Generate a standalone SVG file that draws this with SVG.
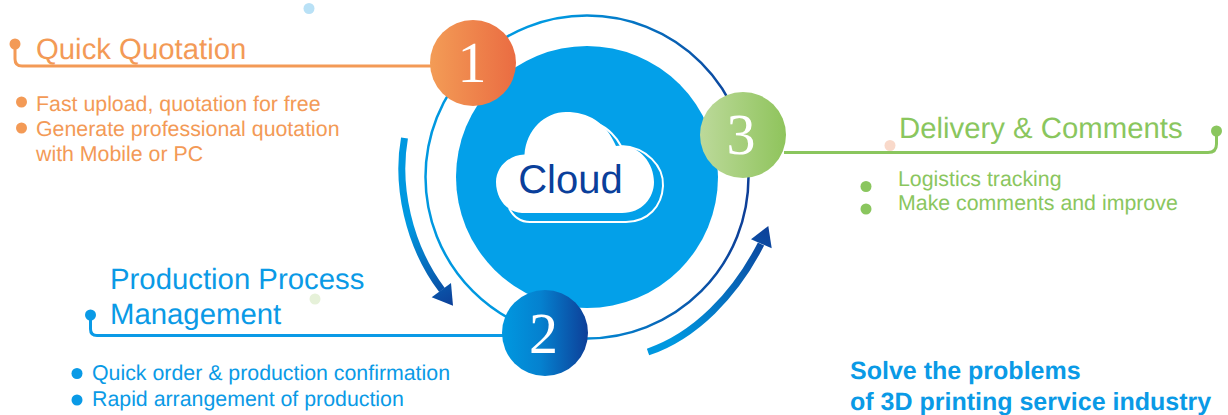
<svg xmlns="http://www.w3.org/2000/svg" width="1228" height="415" viewBox="0 0 1228 415">
<style>
text{font-family:"Liberation Sans",Arial,sans-serif;text-rendering:geometricPrecision}
.o{fill:#f39a56}.b{fill:#0a9ae6}.g{fill:#8ac65e}
.t{font-size:29.33px}.s{font-size:21.33px}
.n{font-family:"Liberation Serif","Times New Roman",serif;font-size:58px;fill:#fff;text-anchor:middle}
.l{fill:none;stroke-width:3}
.a{fill:none;stroke-width:7}
</style>
<defs>
<linearGradient id="gr" gradientUnits="userSpaceOnUse" x1="560" y1="0" x2="745" y2="0"><stop offset="0" stop-color="#0098e0"/><stop offset="1" stop-color="#0d3f98"/></linearGradient>
<linearGradient id="g1"><stop offset="0" stop-color="#f39c56"/><stop offset="1" stop-color="#ea6c42"/></linearGradient>
<linearGradient id="g2"><stop offset="0" stop-color="#0098e0"/><stop offset=".45" stop-color="#0581cf"/><stop offset="1" stop-color="#0d3f98"/></linearGradient>
<linearGradient id="g3"><stop offset="0" stop-color="#bcd99a"/><stop offset="1" stop-color="#8fc45c"/></linearGradient>
<linearGradient id="ga" gradientUnits="userSpaceOnUse" x1="410" y1="225" x2="453" y2="306"><stop offset="0" stop-color="#0098e0"/><stop offset="1" stop-color="#0d3f98"/></linearGradient>
<linearGradient id="gb" gradientUnits="userSpaceOnUse" x1="670" y1="340" x2="770" y2="226"><stop offset="0" stop-color="#0098e0"/><stop offset="1" stop-color="#0d3f98"/></linearGradient>
</defs>
<g id="decor">
<circle cx="309" cy="8.5" r="5.5" fill="#b9e1f6"/>
<circle cx="315" cy="299" r="5.5" fill="#e6f1d9"/>
<circle cx="890" cy="145.5" r="5.5" fill="#f9d9ca"/>
</g>
<g id="hub">
<circle cx="587" cy="177" r="161.5" fill="none" stroke="url(#gr)" stroke-width="2.5"/>
<circle cx="587" cy="177" r="131" fill="#03a0e9"/>
<path d="M598 124C608 128 617 138 621 146C646 147 664 166 663 186C662 206 648 222 626 222H530C520 222 513 216 509 208" fill="none" stroke="#fff" stroke-width="2"/>
<path d="M524.500 154.500C526 130 545 112 566 112C588 112 606 122 616 146C638 143 654 162 654 182C654 198 642 213 622 213H522C506 212 496 198 496 182C496 168 508 155 524.500 154.500Z" fill="#fff"/>
<text x="570.500" y="192.500" font-size="40" text-anchor="middle" fill="#0a3f9b">Cloud</text>
</g>
<g id="connectors">
<path class="l" stroke="#f39a56" d="M15 44V59Q15 66 22 66H432"/>
<path class="l" stroke="#0a9ae6" d="M90.500 315V329Q90.500 335.500 97 335.500H504"/>
<path class="l" stroke="#8ac65e" d="M784 152.500H1208Q1216.500 152.500 1216.500 144V131"/>
<path class="a" stroke="url(#ga)" d="M404.500 138C396 185 408 245 442 290"/>
<path fill="url(#ga)" d="M431.700 297.300L451 283L453 305.700Z"/>
<path class="a" stroke="url(#gb)" d="M648 352C695 336 735 295 761 244"/>
<path fill="url(#gb)" d="M751 239.300L768.300 226L771.700 248.300Z"/>
</g>
<g id="node-1">
<circle cx="473" cy="63" r="43" fill="url(#g1)"/><text class="n" x="472" y="82">1</text>
</g>
<g id="node-2">
<circle cx="545" cy="333" r="43" fill="url(#g2)"/><text class="n" x="543.500" y="352.500">2</text>
</g>
<g id="node-3">
<circle cx="743" cy="135" r="43" fill="url(#g3)"/><text class="n" x="741" y="154">3</text>
</g>
<g id="label-quick-quotation" class="o">
<circle cx="15" cy="44" r="5.500"/>
<text class="t" x="36" y="58.500">Quick Quotation</text>
<circle cx="21.500" cy="102" r="5.500"/><circle cx="21.500" cy="128" r="5.500"/>
<text class="s" x="36" y="111">Fast upload, quotation for free</text>
<text class="s" x="36" y="136">Generate professional quotation</text>
<text class="s" x="36" y="161">with Mobile or PC</text>
</g>
<g id="label-production" class="b">
<circle cx="90.500" cy="315" r="5.500"/>
<text class="t" x="110" y="288.500">Production Process</text>
<text class="t" x="110" y="324">Management</text>
<circle cx="77" cy="373.500" r="5.500"/><circle cx="77" cy="400" r="5.500"/>
<text class="s" x="92" y="380">Quick order &amp; production confirmation</text>
<text class="s" x="92" y="406">Rapid arrangement of production</text>
</g>
<g id="label-delivery" class="g">
<circle cx="1216.500" cy="131" r="5.500"/>
<text class="t" x="899" y="137.500">Delivery &amp; Comments</text>
<circle cx="866" cy="186.500" r="5.500"/><circle cx="866" cy="209" r="5.500"/>
<text class="s" x="898" y="186">Logistics tracking</text>
<text class="s" x="898" y="210">Make comments and improve</text>
</g>
<g id="slogan" class="b" font-weight="bold" font-size="25">
<text x="850" y="379">Solve the problems</text>
<text x="850" y="410">of 3D printing service industry</text>
</g>
</svg>
